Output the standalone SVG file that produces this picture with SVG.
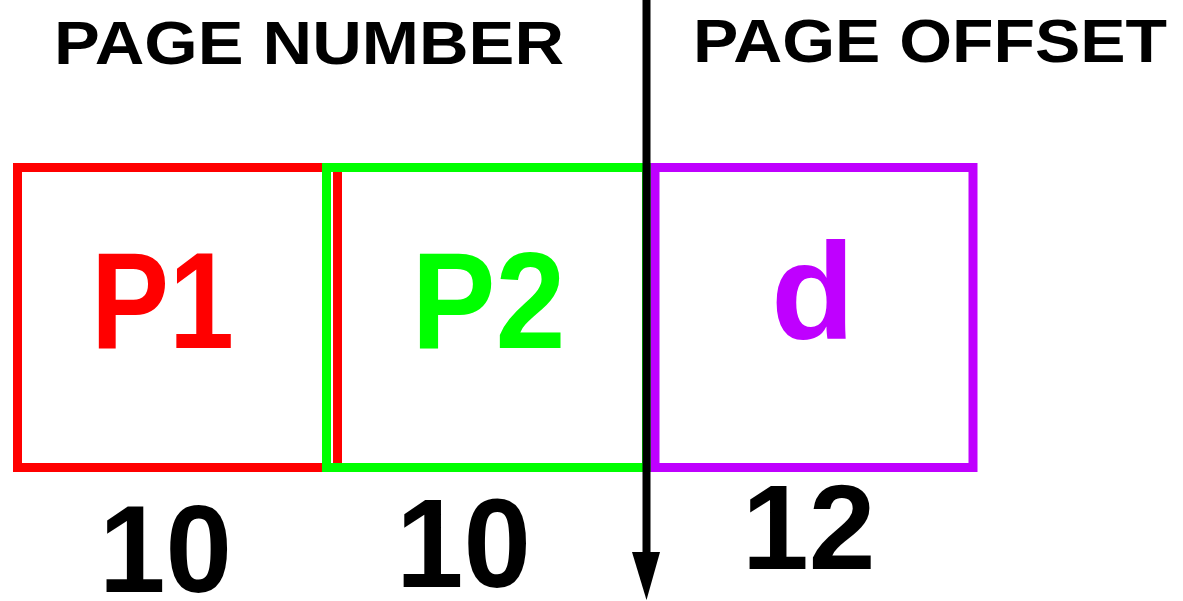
<svg xmlns="http://www.w3.org/2000/svg" width="1183" height="601" viewBox="0 0 1183 601">
<style>
  text { font-family: "Liberation Sans", Arial, sans-serif; font-weight: bold; }
  .box { fill: none; stroke-width: 9; }
  .lbl { fill: #000; }
</style>
<rect width="1183" height="601" fill="#fff"/>
<g id="heading-number"><text class="lbl" x="54" y="64" font-size="62" textLength="510" lengthAdjust="spacingAndGlyphs">PAGE NUMBER</text></g>
<g id="heading-offset"><text class="lbl" x="693" y="62" font-size="61" textLength="474" lengthAdjust="spacingAndGlyphs">PAGE OFFSET</text></g>
<g id="node-p1">
  <rect class="box" x="17.5" y="167.5" width="320" height="300" stroke="#ff0000"/>
  <text x="91" y="348" font-size="137" fill="#ff0000" textLength="143" lengthAdjust="spacingAndGlyphs">P1</text>
</g>
<g id="node-p2">
  <rect class="box" x="326.5" y="167.5" width="320" height="300" stroke="#00ff00"/>
  <text x="411.5" y="348" font-size="137" fill="#00ff00" textLength="154" lengthAdjust="spacingAndGlyphs">P2</text>
</g>
<g id="node-d">
  <rect class="box" x="655" y="167.5" width="318" height="300" stroke="#bf00ff"/>
  <text x="771" y="339" font-size="137" fill="#bf00ff">d</text>
</g>
<g id="label-10a"><text class="lbl" x="99" y="592" font-size="125" textLength="133" lengthAdjust="spacingAndGlyphs">10</text></g>
<g id="label-10b"><text class="lbl" x="396" y="587" font-size="126" textLength="135" lengthAdjust="spacingAndGlyphs">10</text></g>
<g id="label-12"><text class="lbl" x="742" y="569" font-size="120">12</text></g>
<g id="connectors">
  <line x1="646.5" y1="0" x2="646.5" y2="560" stroke="#000" stroke-width="8"/>
  <polygon points="632,552 660,552 646.5,600" fill="#000"/>
</g>
</svg>
